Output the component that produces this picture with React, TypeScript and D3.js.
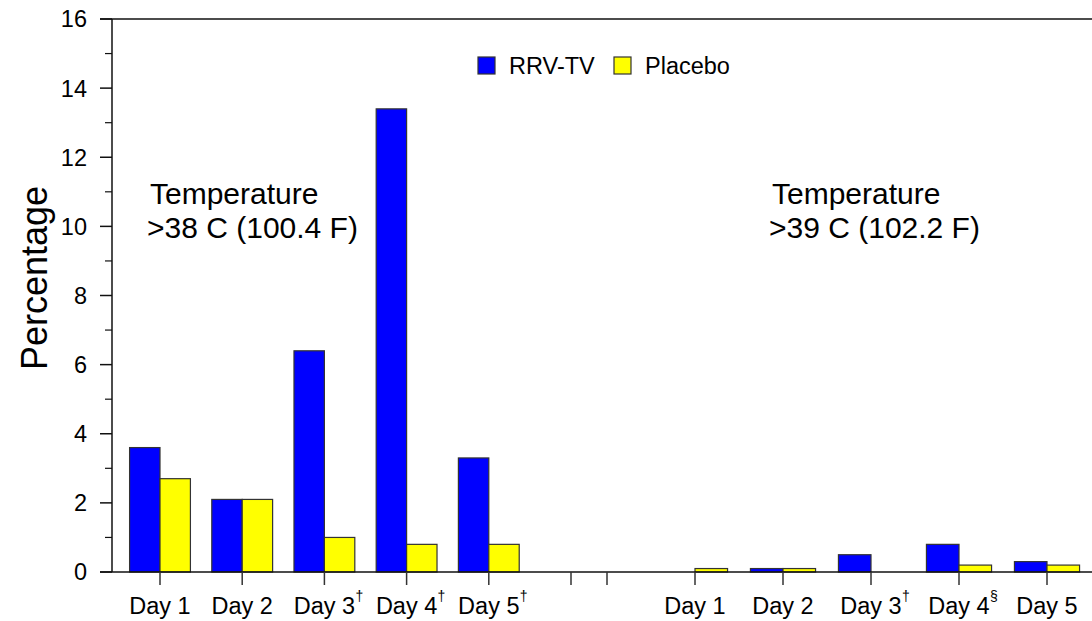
import * as d3 from 'd3'

const dayLabels = ['Day 1', 'Day 2', 'Day 3', 'Day 4', 'Day 5']
const marks38 = ['', '', '†', '†', '†']
const marks39 = ['', '', '†', '§', '']
const vaccine38 = [3.6, 2.1, 6.4, 13.4, 3.3]
const placebo38 = [2.7, 2.1, 1.0, 0.8, 0.8]
const vaccine39 = [0, 0.1, 0.5, 0.8, 0.3]
const placebo39 = [0.1, 0.1, 0, 0.2, 0.2]
const yTicks = [0, 2, 4, 6, 8, 10, 12, 14, 16]
const yMinorTicks = [1, 3, 5, 7, 9, 11, 13, 15]
const seriesNames = ['RRV-TV', 'Placebo']
const colors = ['#0000ff', '#ffff00']

const W = 1092
const H = 621
const font = '"Liberation Sans", Arial, sans-serif'

export default function App() {
  const axisX = 112
  const y = d3.scaleLinear().domain([0, 16]).range([572, 19])

  // two groups with slightly different spacing, each with an empty slot at the gap
  const left = d3.scalePoint<string>().domain(['1', '2', '3', '4', '5', 'gapL']).range([160, 571])
  const right = d3.scalePoint<string>().domain(['gapR', '1', '2', '3', '4', '5']).range([607, 1047])

  const groups = [
    {scale: left, vaccine: vaccine38, placebo: placebo38, marks: marks38},
    {scale: right, vaccine: vaccine39, placebo: placebo39, marks: marks39},
  ]

  const bars: JSX.Element[] = []
  const labels: JSX.Element[] = []
  const xTicks: number[] = []
  groups.forEach((g, gi) => {
    const bw = g.scale.step() * 0.37
    g.scale.domain().forEach(k => xTicks.push(g.scale(k)!))
    dayLabels.forEach((lab, i) => {
      const cx = g.scale(String(i + 1))!
      ;[g.vaccine[i], g.placebo[i]].forEach((v, si) => {
        if (v <= 0) return
        bars.push(
          <rect
            key={`b${gi}-${i}-${si}`}
            x={si === 0 ? cx - bw : cx}
            y={y(v)}
            width={bw}
            height={y(0) - y(v)}
            fill={colors[si]}
            stroke="#333"
            strokeWidth={1.2}
          />,
        )
      })
      labels.push(
        <text key={`l${gi}-${i}`} x={cx} y={614} textAnchor="middle" fontSize={23.5}>
          {lab}
        </text>,
      )
      if (g.marks[i]) {
        labels.push(
          <text key={`m${gi}-${i}`} x={cx + 31} y={601} fontSize={14}>
            {g.marks[i]}
          </text>,
        )
      }
    })
  })

  return (
    <svg width={W} height={H} style={{position: 'absolute', left: 0, top: 0}} fontFamily={font}>
      <rect width={W} height={H} fill="#fff" />
      {bars}
      {/* frame */}
      <line x1={100} x2={W} y1={y(16)} y2={y(16)} stroke="#111" strokeWidth={1.5} />
      <line x1={100} x2={W} y1={y(0)} y2={y(0)} stroke="#111" strokeWidth={1.5} />
      <line x1={axisX} x2={axisX} y1={y(16)} y2={y(0)} stroke="#111" strokeWidth={1.5} />
      {yTicks.map(t => (
        <g key={t}>
          <line x1={100} x2={axisX} y1={y(t)} y2={y(t)} stroke="#111" strokeWidth={1.5} />
          <text x={87} y={y(t)} dy="0.36em" textAnchor="end" fontSize={23.5}>
            {t}
          </text>
        </g>
      ))}
      {yMinorTicks.map(t => (
        <line key={t} x1={105} x2={axisX} y1={y(t)} y2={y(t)} stroke="#111" strokeWidth={1.2} />
      ))}
      {xTicks.map((x, i) => (
        <line key={i} x1={x} x2={x} y1={y(0)} y2={y(0) + 13} stroke="#333" strokeWidth={1.5} />
      ))}
      {labels}
      <text transform={`translate(47,278) rotate(-90)`} textAnchor="middle" fontSize={36}>
        Percentage
      </text>
      <text x={150} y={204} fontSize={30}>
        Temperature
      </text>
      <text x={147} y={238} fontSize={30}>
        {'>38 C (100.4 F)'}
      </text>
      <text x={772} y={204} fontSize={30}>
        Temperature
      </text>
      <text x={769} y={238} fontSize={30}>
        {'>39 C (102.2 F)'}
      </text>
      {seriesNames.map((name, i) => (
        <g key={name} transform={`translate(${i === 0 ? 478 : 614},57)`}>
          <rect width={17} height={17} fill={colors[i]} stroke="#333" strokeWidth={1.2} />
          <text x={31} y={17} fontSize={23.5}>
            {name}
          </text>
        </g>
      ))}
    </svg>
  )
}
